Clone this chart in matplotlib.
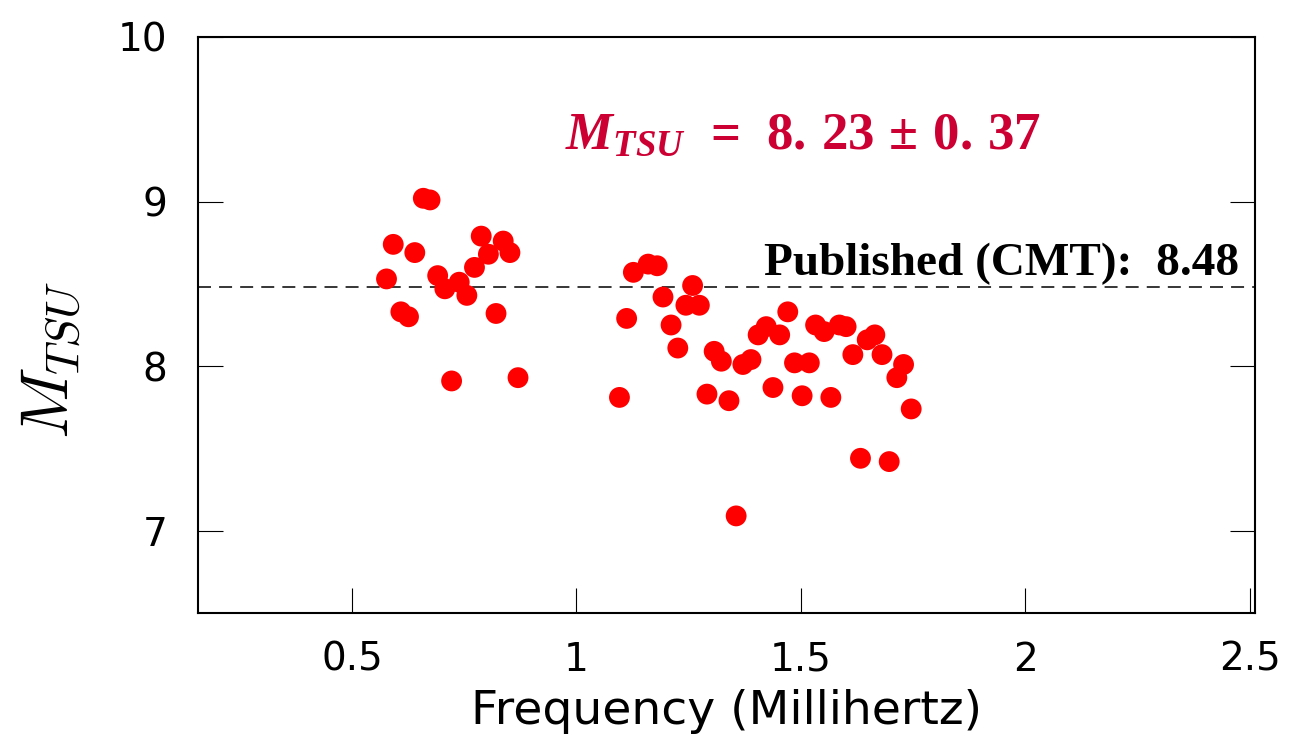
import matplotlib
matplotlib.use("Agg")
import matplotlib.pyplot as plt

# Magnitude estimates per frequency (mHz)
freq_low = [0.577, 0.592, 0.609, 0.626, 0.640, 0.659, 0.674, 0.691, 0.707, 0.722,
            0.739, 0.756, 0.773, 0.788, 0.804, 0.821, 0.837, 0.852, 0.870]
mag_low = [8.53, 8.74, 8.33, 8.30, 8.69, 9.02, 9.01, 8.55, 8.47, 7.91,
           8.51, 8.43, 8.60, 8.79, 8.68, 8.32, 8.76, 8.69, 7.93]

freq_high = [1.096, 1.112, 1.127, 1.160, 1.180, 1.193, 1.211, 1.226, 1.244, 1.259,
             1.274, 1.291, 1.307, 1.323, 1.340, 1.356, 1.371, 1.389, 1.405, 1.423,
             1.438, 1.453, 1.471, 1.486, 1.503, 1.519, 1.533, 1.552, 1.567, 1.586,
             1.601, 1.616, 1.633, 1.648, 1.665, 1.681, 1.697, 1.714, 1.729, 1.746]
mag_high = [7.81, 8.29, 8.57, 8.62, 8.61, 8.42, 8.25, 8.11, 8.37, 8.49,
            8.37, 7.83, 8.09, 8.03, 7.79, 7.09, 8.01, 8.04, 8.19, 8.24,
            7.87, 8.19, 8.33, 8.02, 7.82, 8.02, 8.25, 8.21, 7.81, 8.25,
            8.24, 8.07, 7.44, 8.16, 8.19, 8.07, 7.42, 7.93, 8.01, 7.74]

published_cmt = 8.48
mean_mtsu = 8.23
std_mtsu = 0.37

x_ticks = [0.5, 1, 1.5, 2, 2.5]
x_tick_labels = ["0.5", "1", "1.5", "2", "2.5"]
y_ticks = [7, 8, 9, 10]
y_tick_labels = ["7", "8", "9", "10"]

plt.rcParams["font.family"] = "DejaVu Sans"
plt.rcParams["mathtext.fontset"] = "custom"
plt.rcParams["mathtext.rm"] = "Liberation Serif:bold"
plt.rcParams["mathtext.it"] = "Liberation Serif:bold:italic"
plt.rcParams["mathtext.bf"] = "Liberation Serif:bold"

fig = plt.figure(figsize=(12.94, 7.36), dpi=100)
ax = fig.add_axes([198 / 1294, 1 - 613 / 736, (1255 - 198) / 1294, (613 - 37) / 736])

freqs = freq_low + freq_high
mags = mag_low + mag_high
ax.scatter(freqs, mags, s=225, c="#ff0000", edgecolors="none", zorder=3)

ax.axhline(published_cmt, color="black", lw=1.1, dashes=(8.5, 5.3), zorder=2)

ax.set_xlim(0.157, 2.512)
ax.set_ylim(6.5, 10)
ax.set_xticks(x_ticks)
ax.set_xticklabels(x_tick_labels)
ax.set_yticks(y_ticks)
ax.set_yticklabels(y_tick_labels)

ax.tick_params(axis="both", direction="in", length=18, width=0.8, labelsize=28,
               colors="black")
ax.tick_params(axis="x", pad=20)
ax.tick_params(axis="y", pad=22, right=True)

for sp in ax.spines.values():
    sp.set_linewidth(1.5)
    sp.set_color("black")

ax.set_xlabel("Frequency (Millihertz)", fontsize=34, labelpad=7)
ax.set_ylabel(r"$M_{TSU}$", fontsize=48, math_fontfamily="cm")
ax.yaxis.set_label_coords(-0.108, 0.44)

ax.text(0.985, published_cmt + 0.075, "Published (CMT):  %.2f" % published_cmt,
        transform=ax.get_yaxis_transform(), ha="right", va="baseline",
        family="Liberation Serif", fontweight="bold", fontsize=34, color="black")

fig.text(565 / 1294, 1 - 149 / 736,
         r"$M_{TSU}\;\,=\;\,\mathrm{%s}\,\pm\,\mathrm{%s}$"
         % (str(mean_mtsu).replace(".", r".\,"), str(std_mtsu).replace(".", r".\,")),
         ha="left", va="baseline", fontsize=38, color="#cc0033")

fig.savefig("out.png", dpi=100)
